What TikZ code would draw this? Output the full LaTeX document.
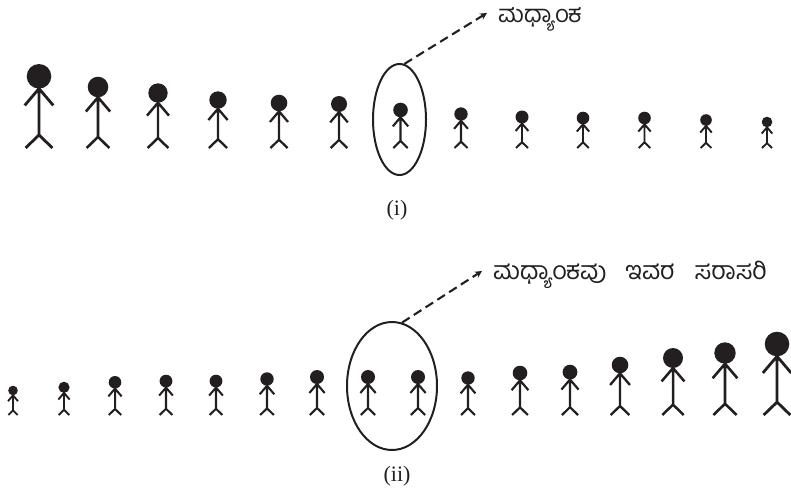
\documentclass[tikz,border=0pt]{standalone}
\usepackage{fontspec}
\setmainfont{Liberation Serif}
\newfontfamily\kannadafont[Script=Kannada]{Hind Mysuru}
\usetikzlibrary{shapes.geometric,arrows.meta}

% stick figure: x, feet y, total height, head radius
\newcommand{\stickfig}[4]{%
  \pgfmathsetmacro\sfx{#1}%
  \pgfmathsetmacro\sfb{#2}%
  \pgfmathsetmacro\sfT{#3}%
  \pgfmathsetmacro\sfr{#4}%
  \pgfmathsetmacro\sfhead{\sfb-\sfT+\sfr}%
  \pgfmathsetmacro\sfneck{\sfb-\sfT+2*\sfr}%
  \pgfmathsetmacro\sfhip{\sfb-0.155*\sfT}%
  \pgfmathsetmacro\sfarm{\sfneck+0.2*\sfT}%
  \pgfmathsetmacro\sflw{1.3+0.018*\sfT}%
  \fill[figink] (\sfx,\sfhead) circle[radius=\sfr];
  \draw[figink,line width=\sflw pt] (\sfx,\sfneck) -- (\sfx,\sfhip)
    (\sfx-0.16*\sfT,\sfb) -- (\sfx,\sfhip) -- (\sfx+0.16*\sfT,\sfb)
    (\sfx-0.17*\sfT,\sfarm) -- (\sfx,\sfneck) -- (\sfx+0.17*\sfT,\sfarm);
}

\definecolor{figink}{RGB}{35,31,32}

\begin{document}
\begin{tikzpicture}[x=1pt,y=-1pt,
  ring/.style={draw=figink,ellipse,line width=2pt,inner sep=0pt},
  callout/.style={draw=figink,dashed,dash pattern=on 9pt off 5pt,line width=2.1pt,
    -{Stealth[length=7pt,width=7pt]}},
  kntext/.style={inner sep=0pt,anchor=base west,text=figink,
    font=\kannadafont\fontsize{24}{28}\selectfont},
  caption/.style={inner sep=0pt,text=figink,font=\fontsize{22}{26}\selectfont}]
\useasboundingbox (0,0) rectangle (791,495);

% ---- row (i): thirteen people, tallest to shortest
\foreach \px/\pT/\pr in {39/84/12.3, 98/71.3/10.3, 158/64.7/9.7, 218/56.7/8.7,
    279/53.3/8.3, 339/52/8, 400.5/45.3/7.3, 461/40.7/6.7, 522/37.5/6.5,
    583/36.3/6.3, 644.5/36.3/6.3, 706/33.8/5.8, 767/31.3/5.3}
  {\stickfig{\px}{148}{\pT}{\pr}}

\node[ring,minimum width=53pt,minimum height=111pt] (med1) at (399.5,119.5) {};
\coordinate (tip1) at (487,13);
\node[kntext] (lab1) at (498,23) {ಮಧ್ಯಾಂಕ};
\draw[callout] (med1.85) -- (tip1);
\node[caption] (cap1) at (397,210) {(i)};

% ---- row (ii): sixteen people, shortest to tallest
\foreach \px/\pT/\pr in {13/29.3/4.8, 64/33.3/5.6, 115/39/6.3, 166/40.3/6.4,
    216/40.3/6.4, 267/42.7/6.7, 317/45/7, 368/45/7, 418/45/7, 468/43.7/6.7,
    520/49.3/7.3, 570/50.3/7.4, 620/58.3/8.3, 673/67/10, 725/72.7/10.7, 777/83.3/12.3}
  {\stickfig{\px}{415}{\pT}{\pr}}

\node[ring,minimum width=90pt,minimum height=128pt] (med2) at (392,386) {};
\coordinate (tip2) at (482,271);
\node[kntext,font=\kannadafont\fontsize{25}{29}\selectfont] (lab2) at (493,279)
  {ಮಧ್ಯಾಂಕವು\hspace{0.75em}ಇವರ\hspace{0.8em}ಸರಾಸರಿ};
\draw[callout] (med2.81) -- (tip2);
\node[caption] (cap2) at (397,476) {(ii)};
\end{tikzpicture}
\end{document}
